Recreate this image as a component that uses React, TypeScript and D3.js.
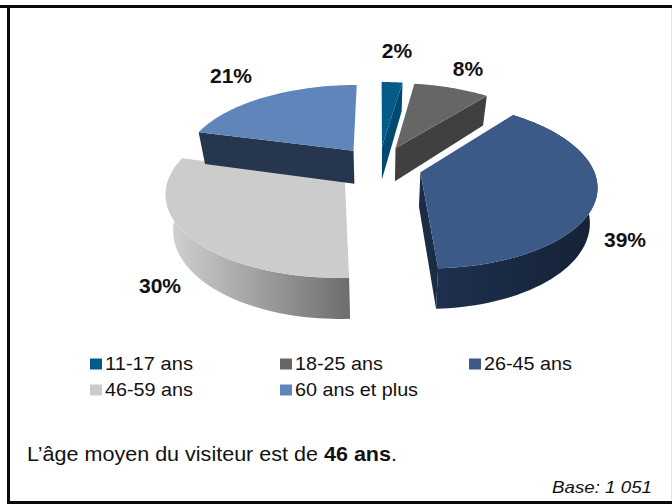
import React from "react";
import * as d3 from "d3";

const categories = ["11-17 ans", "18-25 ans", "26-45 ans", "46-59 ans", "60 ans et plus"];
const values = [2.3, 8.4, 38.5, 29.9, 20.9];
const labels = ["2%", "8%", "39%", "30%", "21%"];
const topColors = ["#035b8a", "#666666", "#3c5a87", "#cccccc", "#5f85bb"];
const wallColors = ["#004a72", "#404040", "#1b2c47", "#8a8a8a", "#26364e"];
const labelPos: [number, number][] = [[397, 58], [468, 76], [625, 247], [160, 293], [231, 83]];
const legendPos: [number, number][] = [[90, 364], [280, 364], [469, 364], [90, 390], [280, 390]];

const CX = 379, CY = 166, EXPLODE = 43, R = 172, SQUASH = 0.464, K = 0.15, DEPTH = 34, BOTTOM_X = 0.965;

function project(X: number, Y: number): [number, number] {
  const f = 1 / (1 - (K * Y) / R);
  return [CX + X * f, CY + Y * SQUASH * f];
}
function projectBottom(X: number, Y: number): [number, number] {
  const f = 1 / (1 - (K * Y) / R);
  return [CX + X * f * BOTTOM_X, CY + Y * SQUASH * f + DEPTH * f];
}
const lineGen = d3.line<[number, number]>();

export default function App() {
  const arcs = d3.pie<number>().sort(null)(values);
  const slices = arcs.map((s, i) => {
    const mid = (s.startAngle + s.endAngle) / 2;
    const ex = EXPLODE * Math.sin(mid);
    const ey = -EXPLODE * Math.cos(mid);
    const angles = d3.range(0, 61).map((t) => s.startAngle + (s.endAngle - s.startAngle) * (t / 60));
    const rimTop = angles.map((a) => project(ex + R * Math.sin(a), ey - R * Math.cos(a)));
    const rimBottom = angles.map((a) => projectBottom(ex + R * Math.sin(a), ey - R * Math.cos(a)));
    const apex = project(ex, ey);
    const apexB = projectBottom(ex, ey);
    return {
      i,
      topPath: lineGen([apex, ...rimTop])! + "Z",
      outerWall: lineGen([...rimTop, ...[...rimBottom].reverse()])! + "Z",
      startWall: lineGen([apex, rimTop[0], rimBottom[0], apexB])! + "Z",
      endWall: lineGen([apex, rimTop[60], rimBottom[60], apexB])! + "Z",
    };
  });
  const outerFill = ["#004a72", "#404040", "url(#wall39)", "url(#wall30)", "#26364e"];
  return (
    <svg width={672} height={504} style={{ position: "absolute", left: 0, top: 0, background: "#fff" }}
      fontFamily="'Liberation Sans', Arial, sans-serif">
      <defs>
        <linearGradient id="wall30" gradientUnits="userSpaceOnUse" x1={168} x2={350} y1={0} y2={0}>
          <stop offset="0" stopColor="#d2d2d2" />
          <stop offset="1" stopColor="#6d6d6d" />
        </linearGradient>
        <linearGradient id="wall39" gradientUnits="userSpaceOnUse" x1={437} x2={595} y1={0} y2={0}>
          <stop offset="0" stopColor="#1d304e" />
          <stop offset="1" stopColor="#152236" />
        </linearGradient>
      </defs>
      <path d="M671.5,8V501" stroke="#e4e4e4" strokeWidth={1} fill="none" />
      <path d="M0,6.5H672M8.5,6.5V502.5H672" fill="none" stroke="#0a0a0a" strokeWidth={3} />
      {slices.map((s) => (
        <g key={s.i}>
          {s.i === 4 && <path d={s.startWall} fill={wallColors[s.i]} />}
          {s.i === 2 && <path d={s.endWall} fill={wallColors[s.i]} />}
          {(s.i === 0 || s.i === 1) && <path d={s.endWall} fill={wallColors[s.i]} />}
          {(s.i === 2 || s.i === 3) && <path d={s.outerWall} fill={outerFill[s.i]} />}
          <path d={s.topPath} fill={topColors[s.i]} />
        </g>
      ))}
      {labels.map((l, i) => (
        <text key={l} x={labelPos[i][0]} y={labelPos[i][1]} textAnchor="middle" fontSize={21} fontWeight="bold" fill="#111">{l}</text>
      ))}
      {categories.map((c, i) => (
        <g key={c} transform={`translate(${legendPos[i][0]},${legendPos[i][1]})`}>
          <rect x={0} y={-5.5} width={12} height={11} fill={topColors[i]} />
          <text x={15} y={6} fontSize={19} fill="#111" textLength={c === "60 ans et plus" ? 123 : 88} lengthAdjust="spacingAndGlyphs">{c}</text>
        </g>
      ))}
      <text x={27} y={461} fontSize={20.5} fill="#111" textLength={370} lengthAdjust="spacingAndGlyphs">L’âge moyen du visiteur est de <tspan fontWeight="bold">46 ans</tspan>.</text>
      <text x={552} y={493} fontSize={17} fontStyle="italic" fill="#111" textLength={100} lengthAdjust="spacingAndGlyphs">Base: 1 051</text>
    </svg>
  );
}
